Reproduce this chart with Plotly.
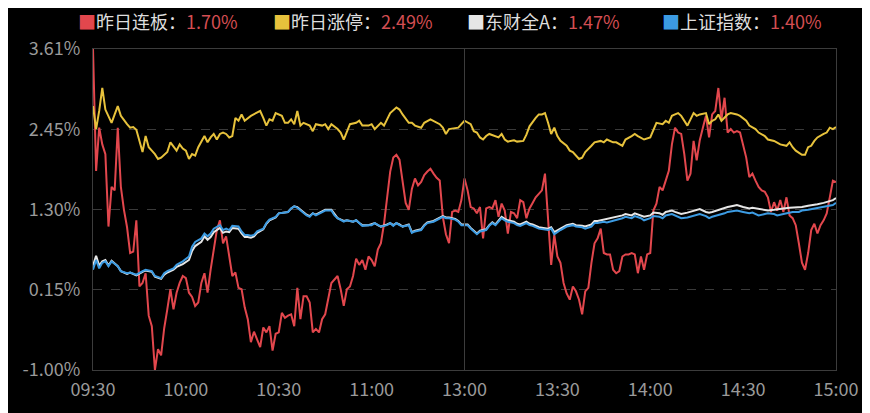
import plotly.graph_objects as go

# x axis: minutes since 09:30 with the lunch break collapsed (0..240)
tick_pos = [0, 30, 60, 90, 120, 150, 180, 210, 240]
tick_text = ['09:30', '10:00', '10:30', '11:00', '13:00', '13:30', '14:00', '14:30', '15:00']

y_ticks = [-1.00, 0.15, 1.30, 2.45, 3.61]

# 昨日连板 (one value per minute)
red_vals = [
    3.61, 1.86, 2.48, 2.24, 2.10, 1.06, 1.63, 1.58, 2.48, 1.63,
    1.30, 1.05, 0.68, 0.70, 1.15, 0.20, 0.25, 0.39, -0.22, -0.37,
    -1.00, -0.70, -0.79, -0.40, -0.13, 0.16, -0.13, 0.11, 0.25, 0.35,
    0.32, 0.11, 0.05, -0.08, -0.03, 0.25, 0.39, 0.11, 0.44, 0.73,
    1.01, 1.15, 0.82, 0.92, 0.63, 0.35, 0.40, 0.18, 0.16, -0.10,
    -0.27, -0.60, -0.45, -0.55, -0.67, -0.39, -0.46, -0.37, -0.72, -0.48,
    -0.46, -0.18, -0.25, -0.22, -0.20, -0.37, 0.18, -0.27, 0.06, 0.06,
    -0.03, -0.46, -0.41, -0.46, -0.27, -0.20, 0.01, 0.25, 0.30, 0.35,
    0.16, -0.08, 0.16, 0.20, 0.35, 0.60, 0.51, 0.58, 0.44, 0.63,
    0.58, 0.49, 0.73, 0.82, 1.10, 1.45, 1.85, 2.05, 2.09, 2.02,
    1.70, 1.40, 1.30, 1.60, 1.75, 1.65, 1.70, 1.80, 1.85, 1.89,
    1.82, 1.76, 1.72, 1.20, 0.95, 0.82, 1.27, 1.29, 1.27, 1.44,
    1.75, 1.58, 1.34, 1.32, 1.25, 1.34, 0.89, 1.32, 1.34, 1.32,
    1.44, 1.20, 1.39, 1.29, 0.96, 1.27, 1.25, 1.18, 1.44, 1.41,
    1.18, 1.32, 1.40, 1.48, 1.53, 1.58, 1.82, 1.20, 0.51, 0.94,
    0.63, 0.54, 0.25, 0.10, 0.01, 0.20, 0.13, 0.01, -0.20, 0.13,
    0.18, 0.54, 0.82, 0.89, 1.03, 0.68, 0.66, 0.66, 0.44, 0.39,
    0.42, 0.63, 0.66, 0.66, 0.68, 0.66, 0.39, 0.63, 0.44, 0.66,
    0.68, 1.29, 1.39, 1.63, 1.58, 1.72, 1.86, 2.24, 2.48, 2.41,
    2.39, 2.10, 1.72, 1.82, 2.29, 2.01, 2.30, 2.48, 2.65, 2.34,
    2.67, 2.72, 3.05, 2.60, 2.91, 2.41, 2.46, 2.41, 2.43, 2.41,
    2.24, 2.05, 1.77, 1.82, 1.72, 1.63, 1.58, 1.56, 1.48, 1.27,
    1.41, 1.29, 1.44, 1.27, 1.48, 1.22, 1.18, 1.08, 0.82, 0.54,
    0.44, 0.68, 1.01, 1.10, 0.96, 1.08, 1.15, 1.25, 1.48, 1.72,
    1.70,
]
red_min = list(range(len(red_vals)))

# 昨日涨停
yellow_min = [
    0, 1, 2, 3, 4, 5, 6, 7, 8, 9, 10, 11, 12, 13, 14, 15, 16, 17, 18, 19,
    20, 21, 22, 24, 25, 27, 28, 29, 30, 31, 32, 33, 34, 36, 37, 38, 39, 40,
    41, 42, 43, 44, 45, 46, 47, 48, 49, 51, 52, 54, 55, 56, 57, 58, 59, 61,
    62, 63, 64, 65, 66, 67, 68, 70, 71, 72, 74, 75, 76, 77, 79, 80, 81, 82,
    83, 85, 86, 87, 89, 90, 91, 93, 94, 95, 96, 98, 99, 100, 102, 103, 104,
    106, 107, 109, 110, 112, 113, 114, 115, 117, 118, 119, 120, 122, 123,
    124, 125, 126, 127, 128, 130, 131, 132, 133, 134, 136, 137, 139, 140,
    141, 143, 144, 145, 146, 147, 148, 149, 150, 151, 153, 154, 155, 157,
    158, 159, 160, 161, 162, 164, 165, 166, 168, 169, 171, 172, 174, 175,
    176, 178, 180, 181, 182, 184, 185, 186, 187, 188, 189, 190, 192, 193,
    194, 195, 196, 198, 199, 200, 201, 202, 203, 205, 206, 208, 209, 211,
    212, 214, 215, 217, 218, 220, 221, 222, 224, 225, 226, 227, 229, 230,
    231, 232, 233, 234, 236, 237, 238, 239, 240,
]
yellow_vals = [
    2.79, 2.46, 2.72, 3.05, 2.74, 2.65, 2.55, 2.67, 2.79, 2.65, 2.58, 2.53,
    2.48, 2.49, 2.45, 2.29, 2.13, 2.36, 2.20, 2.15, 2.10, 2.03, 2.05, 2.13,
    2.27, 2.15, 2.24, 2.18, 2.15, 2.03, 2.10, 2.08, 2.20, 2.36, 2.27, 2.34,
    2.39, 2.31, 2.39, 2.41, 2.39, 2.34, 2.36, 2.62, 2.58, 2.67, 2.58, 2.65,
    2.67, 2.72, 2.62, 2.51, 2.60, 2.58, 2.69, 2.65, 2.55, 2.55, 2.60, 2.53,
    2.72, 2.51, 2.55, 2.51, 2.43, 2.53, 2.51, 2.53, 2.46, 2.53, 2.46, 2.41,
    2.31, 2.43, 2.53, 2.55, 2.58, 2.51, 2.51, 2.53, 2.46, 2.55, 2.51, 2.60,
    2.69, 2.77, 2.74, 2.67, 2.55, 2.55, 2.51, 2.48, 2.55, 2.60, 2.58, 2.53,
    2.48, 2.39, 2.46, 2.48, 2.48, 2.53, 2.58, 2.53, 2.43, 2.41, 2.34, 2.31,
    2.36, 2.39, 2.36, 2.34, 2.39, 2.31, 2.28, 2.30, 2.28, 2.29, 2.38, 2.50,
    2.62, 2.67, 2.67, 2.69, 2.55, 2.39, 2.48, 2.36, 2.29, 2.22, 2.15, 2.13,
    2.03, 2.05, 2.13, 2.17, 2.22, 2.27, 2.29, 2.27, 2.31, 2.27, 2.27, 2.22,
    2.31, 2.36, 2.39, 2.36, 2.31, 2.34, 2.46, 2.55, 2.53, 2.58, 2.55, 2.65,
    2.67, 2.69, 2.65, 2.51, 2.60, 2.69, 2.65, 2.67, 2.69, 2.53, 2.58, 2.60,
    2.67, 2.58, 2.67, 2.69, 2.67, 2.65, 2.58, 2.51, 2.46, 2.41, 2.36, 2.31,
    2.29, 2.27, 2.24, 2.22, 2.27, 2.20, 2.15, 2.09, 2.09, 2.20, 2.22, 2.29,
    2.34, 2.39, 2.41, 2.48, 2.46, 2.49,
]

# 东财全A / 上证指数 share the same sample minutes
idx_min = [
    0, 1, 2, 3, 4, 5, 6, 8, 9, 11, 12, 13, 14, 16, 17, 19, 20, 22, 23, 24,
    26, 27, 29, 31, 32, 33, 35, 36, 37, 38, 39, 41, 42, 43, 44, 45, 47, 48,
    49, 50, 51, 52, 53, 55, 56, 57, 59, 60, 62, 63, 64, 65, 66, 67, 68, 69,
    70, 71, 72, 74, 75, 77, 78, 79, 81, 82, 84, 85, 86, 87, 89, 90, 91, 92,
    93, 95, 96, 97, 98, 99, 100, 102, 103, 104, 106, 107, 108, 110, 111,
    113, 114, 115, 117, 118, 119, 121, 122, 123, 124, 125, 127, 128, 129,
    130, 132, 133, 134, 136, 137, 138, 140, 141, 142, 144, 146, 147, 148,
    149, 151, 152, 153, 155, 156, 158, 159, 161, 162, 163, 165, 166, 168,
    169, 171, 172, 174, 175, 177, 178, 180, 181, 183, 184, 185, 187, 188,
    190, 192, 193, 195, 196, 198, 199, 200, 202, 204, 205, 207, 208, 210,
    212, 213, 215, 217, 218, 220, 221, 223, 225, 226, 228, 229, 231, 233,
    234, 236, 238, 239, 240,
]
white_vals = [
    0.50, 0.64, 0.50, 0.56, 0.58, 0.50, 0.57, 0.49, 0.42, 0.38, 0.40, 0.38,
    0.36, 0.41, 0.43, 0.41, 0.34, 0.31, 0.37, 0.40, 0.44, 0.48, 0.52, 0.58,
    0.71, 0.78, 0.84, 0.92, 0.87, 0.91, 0.98, 1.04, 0.97, 0.99, 0.98, 1.04,
    1.03, 0.96, 0.91, 0.91, 0.90, 0.92, 0.97, 1.02, 1.10, 1.15, 1.19, 1.25,
    1.27, 1.27, 1.32, 1.35, 1.34, 1.30, 1.26, 1.23, 1.21, 1.25, 1.23, 1.28,
    1.30, 1.30, 1.23, 1.18, 1.14, 1.15, 1.13, 1.15, 1.11, 1.08, 1.08, 1.09,
    1.11, 1.08, 1.06, 1.09, 1.11, 1.08, 1.11, 1.09, 1.06, 1.09, 0.98, 1.00,
    1.02, 1.08, 1.12, 1.14, 1.16, 1.21, 1.19, 1.19, 1.17, 1.14, 1.09, 1.09,
    1.04, 1.00, 0.96, 1.00, 1.02, 1.08, 1.12, 1.09, 1.20, 1.17, 1.15, 1.13,
    1.10, 1.09, 1.13, 1.10, 1.09, 1.05, 1.04, 1.03, 1.05, 0.98, 1.03, 1.05,
    1.08, 1.10, 1.08, 1.07, 1.06, 1.09, 1.14, 1.14, 1.16, 1.16, 1.18, 1.19,
    1.22, 1.24, 1.22, 1.25, 1.22, 1.20, 1.22, 1.26, 1.25, 1.23, 1.27, 1.29,
    1.27, 1.24, 1.26, 1.27, 1.29, 1.31, 1.27, 1.26, 1.27, 1.30, 1.33, 1.34,
    1.36, 1.37, 1.34, 1.32, 1.33, 1.31, 1.29, 1.29, 1.30, 1.31, 1.32, 1.33,
    1.33, 1.34, 1.34, 1.36, 1.37, 1.38, 1.40, 1.43, 1.44, 1.47,
]
blue_vals = [
    0.44, 0.58, 0.46, 0.54, 0.56, 0.49, 0.56, 0.49, 0.42, 0.39, 0.40, 0.39,
    0.37, 0.42, 0.44, 0.42, 0.35, 0.32, 0.39, 0.42, 0.46, 0.51, 0.56, 0.63,
    0.77, 0.84, 0.89, 0.96, 0.92, 0.96, 1.03, 1.08, 1.01, 1.03, 1.01, 1.07,
    1.06, 0.99, 0.94, 0.94, 0.93, 0.94, 0.99, 1.03, 1.11, 1.16, 1.20, 1.25,
    1.27, 1.27, 1.32, 1.35, 1.33, 1.29, 1.26, 1.22, 1.20, 1.25, 1.22, 1.27,
    1.29, 1.29, 1.22, 1.18, 1.13, 1.15, 1.13, 1.15, 1.11, 1.07, 1.08, 1.08,
    1.11, 1.08, 1.06, 1.08, 1.11, 1.07, 1.11, 1.08, 1.06, 1.08, 0.97, 0.99,
    1.01, 1.07, 1.11, 1.13, 1.15, 1.20, 1.18, 1.18, 1.16, 1.13, 1.08, 1.08,
    1.03, 0.99, 0.95, 0.99, 1.01, 1.07, 1.11, 1.08, 1.18, 1.15, 1.13, 1.11,
    1.08, 1.07, 1.11, 1.08, 1.07, 1.03, 1.02, 1.01, 1.03, 0.95, 1.01, 1.03,
    1.06, 1.08, 1.06, 1.05, 1.03, 1.06, 1.11, 1.11, 1.13, 1.12, 1.14, 1.15,
    1.18, 1.20, 1.18, 1.21, 1.18, 1.15, 1.18, 1.21, 1.20, 1.18, 1.22, 1.24,
    1.22, 1.18, 1.19, 1.20, 1.22, 1.24, 1.21, 1.18, 1.20, 1.22, 1.25, 1.27,
    1.29, 1.29, 1.27, 1.25, 1.26, 1.22, 1.24, 1.25, 1.24, 1.22, 1.24, 1.26,
    1.27, 1.27, 1.29, 1.30, 1.32, 1.33, 1.34, 1.36, 1.37, 1.40,
]

series = [
    ('昨日连板', red_min, red_vals, '#e2474d'),
    ('昨日涨停', yellow_min, yellow_vals, '#e7c23c'),
    ('东财全A', idx_min, white_vals, '#e6e6e6'),
    ('上证指数', idx_min, blue_vals, '#3c9be2'),
]

fig = go.Figure()
for name, xs, ys, color in series:
    fig.add_trace(go.Scatter(x=xs, y=ys, mode='lines', name=name,
                             line=dict(color=color, width=2),
                             showlegend=False))

# legend row: coloured square, name, last value (positions in window px)
legend_x = [76, 271, 465, 661]
for (name, xs, ys, color), px in zip(series, legend_x):
    fig.add_annotation(
        xref='paper', yref='paper',
        x=(px - 93) / 744, y=(373 - 21) / 324,
        xanchor='left', yanchor='middle', showarrow=False,
        text="<span style='color:{}'>■</span>{}：<span style='color:#d44e52'>{:.2f}%</span>".format(
            color, name, ys[-1]),
        font=dict(size=18, color='#dedede'))

# 13:00 divider
fig.add_shape(type='line', xref='x', yref='paper', x0=120, x1=120, y0=0, y1=1,
              line=dict(color='#3c3c3c', width=1))

# the page body has an 8px margin, so the figure is 8px smaller than the window
fig.update_layout(
    width=862, height=405,
    paper_bgcolor='#000000', plot_bgcolor='#000000',
    margin=dict(l=85, r=33, t=41, b=40),
    font=dict(family='Noto Sans CJK SC, Noto Sans, sans-serif', color='#9a9a9a'),
    xaxis=dict(range=[0, 240], tickvals=tick_pos, ticktext=tick_text,
               showgrid=False, zeroline=False, showline=True, mirror=True,
               linecolor='#3c3c3c', linewidth=1, tickfont=dict(size=18, color='#9a9a9a'),
               ticks='', ticklabelstandoff=3),
    yaxis=dict(range=[-1.00, 3.61], tickvals=y_ticks,
               ticktext=['{:.2f}%'.format(v) for v in y_ticks],
               showgrid=True, gridcolor='#3a3a3a', griddash='dash', gridwidth=1,
               zeroline=False, showline=True, mirror=True,
               linecolor='#3c3c3c', linewidth=1, tickfont=dict(size=18, color='#9a9a9a'),
               ticks='', ticklabelstandoff=8),
)

fig.write_html('out.html')
